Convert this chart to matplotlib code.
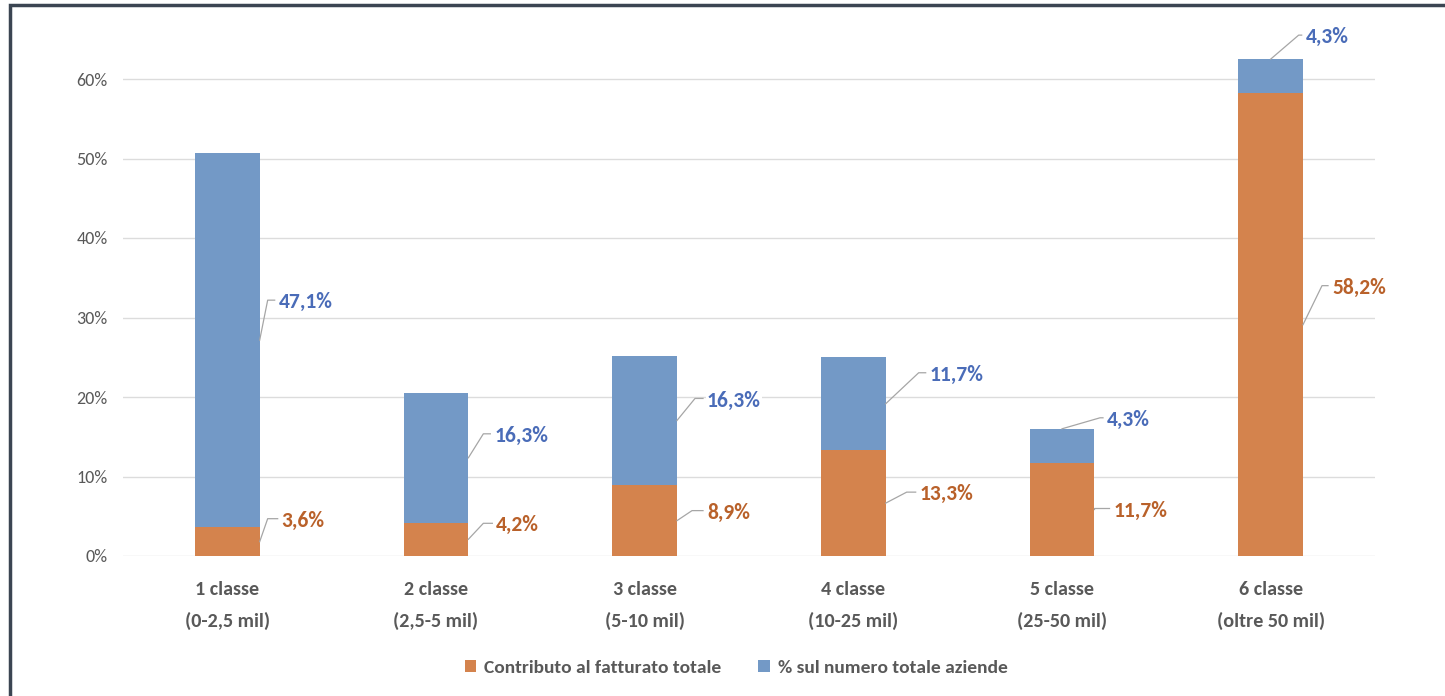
import matplotlib
matplotlib.use('Agg')
import matplotlib.pyplot as plt
from matplotlib.patches import Rectangle
from matplotlib.transforms import IdentityTransform
from matplotlib import font_manager

categories = ['1 classe\n(0-2,5 mil)', '2 classe\n(2,5-5 mil)', '3 classe\n(5-10 mil)',
              '4 classe\n(10-25 mil)', '5 classe\n(25-50 mil)', '6 classe\n(oltre 50 mil)']
fatturato = [3.6, 4.2, 8.9, 13.3, 11.7, 58.2]
aziende = [47.1, 16.3, 16.3, 11.7, 4.3, 4.3]
yticks = [0, 10, 20, 30, 40, 50, 60]
series_names = ['Contributo al fatturato totale', '% sul numero totale aziende']

ORANGE = '#d4834d'
BLUE = '#7399c6'
ORANGE_TXT = '#b9612a'
BLUE_TXT = '#4a6cb8'
GRAY = '#595959'

# Calibri-like font if one is around
names = {f.name for f in font_manager.fontManager.ttflist}
pick = next((n for n in ['Carlito', 'Liberation Sans Narrow', 'Archivo Narrow', 'Asap Condensed']
             if n in names), 'Liberation Sans')
plt.rcParams['font.family'] = [pick, 'DejaVu Sans']

W, H = 1445, 696
fig = plt.figure(figsize=(W / 100, H / 100), dpi=100)

# frame (only top and left edges are visible in the crop)
fig.patches.append(Rectangle((10 / W, -0.1), 1.2, (H - 5) / H + 0.1, transform=fig.transFigure,
                             fill=False, edgecolor='#3b4552', lw=2.5))

ymax = 65
ax = fig.add_axes([123 / W, (H - 556) / H, (1375 - 123) / W, ymax * 7.95 / H])
x = range(len(categories))
width = 0.31
ax.bar(x, fatturato, width, color=ORANGE, label=series_names[0], zorder=2)
ax.bar(x, aziende, width, bottom=fatturato, color=BLUE, label=series_names[1], zorder=2)

ax.set_xlim(-0.5, len(categories) - 0.5)
ax.set_ylim(0, ymax)
ax.set_yticks(yticks)
ax.set_yticklabels([f'{v}%' for v in yticks], fontsize=13, color=GRAY)
ax.set_xticks(list(x))
ax.set_xticklabels(categories, fontsize=14.5, fontweight='bold', color=GRAY, linespacing=1.95)
ax.tick_params(length=0)
ax.tick_params(axis='y', pad=11)
ax.tick_params(axis='x', pad=18)
ax.grid(axis='y', color='#dcdcdc', lw=1, zorder=0)
for s in ax.spines.values():
    s.set_visible(False)

# leader offsets in pixels (dx, dy downwards, horizontal run), anchor kind
lead_o = [(8, -23, 10, 'side'), (15, -16, 9, 'side'), (15, -10, 11, 'side'),
          (21, -11, 9, 'side'), (0, -1, 15, 'side'), (19, -39, 6, 'side')]
lead_b = [(8, -40, 7, 'side'), (15, -24, 7, 'side'), (18, -22, 8, 'side'),
          (33, -31, 7, 'side'), (38, -11, 3, 'top'), (28, -24, 3, 'top')]

def label(i, bottom, val, lead, color):
    dx, dy, run, kind = lead
    if kind == 'side':
        px, py = ax.transData.transform((i + width / 2, bottom + val / 2))
    else:
        px, py = ax.transData.transform((i, bottom + val))
    ex, ey = px + dx, py - dy
    ax.add_line(plt.Line2D([px, ex, ex + run], [py, ey, ey], transform=IdentityTransform(),
                           color='#a6a6a6', lw=0.9, clip_on=False, zorder=3))
    ax.text(ex + run + 4, ey - 2, f'{val:.1f}%'.replace('.', ','), transform=IdentityTransform(),
            ha='left', va='center', fontsize=15.5, fontweight='bold', color=color, zorder=4,
            bbox=dict(facecolor='white', edgecolor='none', pad=1))

for i in x:
    label(i, 0, fatturato[i], lead_o[i], ORANGE_TXT)
    label(i, fatturato[i], aziende[i], lead_b[i], BLUE_TXT)

leg = fig.legend(loc='center', bbox_to_anchor=(736 / W, 1 - 668 / H), ncol=2, frameon=False,
                 prop=dict(size=14, weight='bold'), handlelength=0.6, handleheight=0.6,
                 handletextpad=0.4, columnspacing=1.9)
for t in leg.get_texts():
    t.set_color(GRAY)

fig.savefig('out.png', dpi=100)
